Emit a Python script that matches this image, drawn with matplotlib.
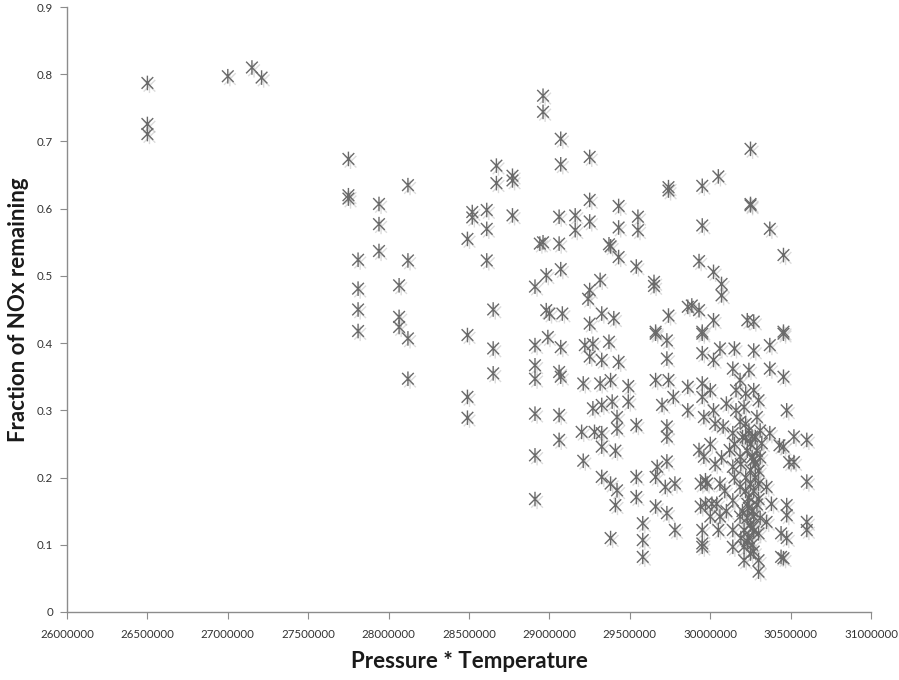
import matplotlib
matplotlib.use("Agg")
import matplotlib.pyplot as plt
import matplotlib.patheffects as pe
from matplotlib.path import Path
from matplotlib.ticker import FixedLocator, FuncFormatter

plt.rcParams['font.family'] = ['Lato', 'DejaVu Sans']

# Pressure * Temperature in millions, fraction of NOx remaining
pt_millions = [
    26.50, 26.50, 26.50, 27.00, 27.15, 27.21,
    27.75, 27.75, 27.75, 27.94, 27.94, 27.94, 28.12, 27.81, 28.12, 27.81, 27.81, 27.81,
    28.065, 28.065, 28.065, 28.12, 28.12,
    28.67, 28.67, 28.77, 28.77, 28.52, 28.61, 28.52, 28.61, 28.49, 28.77, 28.61, 28.65,
    28.49, 28.65, 28.65, 28.49, 28.49,
    28.96, 28.96, 29.07, 29.07, 29.25, 29.74, 29.74, 29.95, 30.05, 29.25, 29.43, 29.06,
    29.16, 29.25, 29.43, 29.55, 29.55, 29.16, 29.95, 28.96, 29.06, 28.94, 29.37, 29.38,
    29.43, 29.54, 29.65, 29.65, 29.07, 29.93, 30.02, 28.98, 28.91, 30.25, 30.25, 30.25,
    30.37, 30.455,
    28.98, 29.00, 29.08, 29.25, 29.315, 29.24, 29.25, 29.325, 29.40, 29.74, 29.66, 29.86,
    29.93, 30.02, 29.95, 30.07, 30.07, 30.23, 30.27, 30.455, 29.885,
    28.99, 29.07, 29.22, 29.27, 29.37, 29.25, 29.325, 29.43, 29.66, 29.73, 29.73, 29.95,
    29.95, 30.02, 29.06, 29.07, 29.21, 29.315, 29.38, 29.49, 29.66, 29.74, 29.77, 29.86,
    29.95, 29.95, 29.27, 29.325, 29.39, 29.49, 29.42, 29.70, 29.86, 29.96, 30.02, 29.06,
    29.06, 29.20, 29.28, 29.325, 29.42, 29.54, 29.73, 29.73, 29.325, 29.41, 29.21, 29.93,
    29.96, 29.67, 29.73, 29.325, 29.38, 29.42, 29.41, 29.54, 29.54, 29.66, 29.72, 29.78,
    29.66, 29.73, 29.78, 29.94, 29.98, 29.94, 30.01, 29.95, 29.95, 29.38, 29.58, 29.58,
    29.58, 28.91, 28.91, 28.91, 28.91, 28.91, 28.91,
    30.455, 30.37, 30.06, 30.15, 30.27, 30.14, 30.24, 30.37, 30.455, 30.185, 30.22, 30.27,
    30.30, 30.21, 30.475, 30.185, 30.08, 30.14, 30.26, 30.37, 30.32, 30.43, 30.52, 30.49,
    30.12, 30.185, 30.27, 30.25, 30.14, 29.97, 30.06, 30.185, 30.30, 30.35, 30.475, 30.475,
    29.97, 30.04, 30.14, 30.23, 30.30, 30.38, 30.00, 30.06, 30.185, 30.27, 30.35, 30.05,
    30.14, 30.21, 30.30, 30.44, 30.475, 29.95, 30.14, 30.21, 30.25, 30.21, 30.30, 30.44,
    30.30,
    30.60, 30.455, 30.52, 30.60, 30.60, 30.60, 30.455,
    30.22, 30.24, 30.25, 30.23, 30.26, 30.28, 30.22, 30.25, 30.27, 30.24, 30.26, 30.23,
    30.25, 30.27, 30.24, 30.26, 30.28, 30.29, 30.22, 30.28, 30.29, 30.22, 30.24, 30.26,
    30.23, 30.27, 30.29, 30.31, 30.31, 30.30, 30.31, 30.20, 30.19, 30.20, 30.19,
    30.15, 30.15, 30.16, 30.16, 30.00, 30.03, 30.07, 30.09, 30.10, 30.00, 30.03, 30.10,
]

nox_fraction = [
    0.787, 0.726, 0.711, 0.797, 0.810, 0.795,
    0.674, 0.620, 0.615, 0.607, 0.577, 0.537, 0.635, 0.524, 0.523, 0.481, 0.450, 0.418,
    0.486, 0.439, 0.424, 0.407, 0.347,
    0.664, 0.638, 0.649, 0.642, 0.595, 0.598, 0.587, 0.570, 0.555, 0.590, 0.523, 0.450,
    0.412, 0.392, 0.355, 0.320, 0.289,
    0.768, 0.744, 0.704, 0.666, 0.677, 0.632, 0.627, 0.634, 0.648, 0.613, 0.604, 0.588,
    0.590, 0.581, 0.572, 0.588, 0.568, 0.568, 0.575, 0.550, 0.548, 0.548, 0.547, 0.544,
    0.528, 0.514, 0.491, 0.485, 0.510, 0.522, 0.506, 0.501, 0.484, 0.689, 0.607, 0.605,
    0.570, 0.531,
    0.449, 0.444, 0.444, 0.479, 0.494, 0.466, 0.429, 0.444, 0.437, 0.441, 0.417, 0.454,
    0.449, 0.434, 0.417, 0.488, 0.471, 0.434, 0.432, 0.417, 0.456,
    0.409, 0.394, 0.397, 0.399, 0.402, 0.380, 0.375, 0.372, 0.414, 0.404, 0.377, 0.414,
    0.385, 0.375, 0.357, 0.350, 0.340, 0.340, 0.345, 0.336, 0.345, 0.345, 0.320, 0.335,
    0.340, 0.320, 0.303, 0.308, 0.313, 0.313, 0.290, 0.308, 0.300, 0.290, 0.300, 0.293,
    0.256, 0.268, 0.268, 0.266, 0.273, 0.278, 0.276, 0.261, 0.246, 0.240, 0.225, 0.241,
    0.231, 0.216, 0.224, 0.201, 0.191, 0.181, 0.159, 0.201, 0.171, 0.201, 0.186, 0.191,
    0.157, 0.147, 0.122, 0.191, 0.191, 0.157, 0.161, 0.122, 0.097, 0.110, 0.132, 0.107,
    0.082, 0.397, 0.367, 0.347, 0.295, 0.233, 0.168,
    0.414, 0.397, 0.392, 0.392, 0.389, 0.362, 0.360, 0.362, 0.350, 0.345, 0.325, 0.330,
    0.315, 0.305, 0.300, 0.283, 0.276, 0.266, 0.261, 0.266, 0.251, 0.248, 0.261, 0.223,
    0.241, 0.231, 0.226, 0.211, 0.216, 0.196, 0.191, 0.186, 0.191, 0.186, 0.159, 0.144,
    0.161, 0.161, 0.166, 0.161, 0.168, 0.161, 0.142, 0.142, 0.142, 0.142, 0.134, 0.122,
    0.122, 0.122, 0.117, 0.117, 0.110, 0.102, 0.097, 0.097, 0.087, 0.077, 0.077, 0.082,
    0.060,
    0.256, 0.246, 0.223, 0.194, 0.134, 0.122, 0.080,
    0.280, 0.270, 0.250, 0.240, 0.230, 0.220, 0.200, 0.190, 0.180, 0.170, 0.150, 0.140,
    0.130, 0.120, 0.110, 0.100, 0.260, 0.240, 0.260, 0.200, 0.160, 0.180, 0.155, 0.125,
    0.105, 0.090, 0.290, 0.270, 0.230, 0.210, 0.140, 0.260, 0.220, 0.150, 0.110,
    0.200, 0.250, 0.300, 0.330, 0.250, 0.220, 0.230, 0.180, 0.150, 0.330, 0.280, 0.310,
]

x_values = [v * 1e6 for v in pt_millions]
x_ticks = [26000000, 26500000, 27000000, 27500000, 28000000, 28500000,
           29000000, 29500000, 30000000, 30500000, 31000000]
y_ticks = [0, 0.1, 0.2, 0.3, 0.4, 0.5, 0.6, 0.7, 0.8, 0.9]

# Excel-like asterisk marker: X plus vertical bar
asterisk = Path(
    [(-1, -1), (1, 1), (-1, 1), (1, -1), (0, -1.25), (0, 1.25)],
    [Path.MOVETO, Path.LINETO, Path.MOVETO, Path.LINETO, Path.MOVETO, Path.LINETO],
)

fig = plt.figure(figsize=(8.99, 6.8), dpi=100)
ax = fig.add_axes([0.0745, 0.1, 0.8945, 0.8897])

ax.plot(x_values, nox_fraction, linestyle='none', marker=asterisk,
        markersize=10.5, markeredgewidth=1.0, markeredgecolor='#6a6a6a',
        markerfacecolor='none',
        path_effects=[pe.SimpleLineShadow(offset=(1.5, -2), shadow_color='#9a9a9a',
                                          alpha=0.35, rho=1.0),
                      pe.Normal()])

ax.set_xlim(26000000, 31000000)
ax.set_ylim(0, 0.9)
ax.xaxis.set_major_locator(FixedLocator(x_ticks))
ax.yaxis.set_major_locator(FixedLocator(y_ticks))
ax.xaxis.set_major_formatter(FuncFormatter(lambda v, p: f"{int(round(v))}"))
ax.yaxis.set_major_formatter(FuncFormatter(lambda v, p: "0" if v == 0 else f"{v:.1f}"))

for side in ['top', 'right']:
    ax.spines[side].set_visible(False)
for side in ['left', 'bottom']:
    ax.spines[side].set_color('#8c8c8c')
    ax.spines[side].set_linewidth(1.0)

ax.tick_params(axis='x', direction='out', length=5, width=0.8, color='#8c8c8c',
               labelsize=8.3, labelcolor='#333333', pad=7)
ax.tick_params(axis='y', direction='out', length=5, width=0.8, color='#8c8c8c',
               labelsize=8.3, labelcolor='#333333', pad=5)

fig.text(469 / 899, 1 - 661 / 680, 'Pressure * Temperature', fontsize=16,
         fontweight='bold', color='#1a1a1a', ha='center', va='center')
fig.text(19 / 899, 1 - 310 / 680, 'Fraction of NOx remaining', fontsize=16,
         fontweight='bold', color='#1a1a1a', ha='center', va='center', rotation=90)

fig.savefig('out.png', dpi=100, facecolor='white')
